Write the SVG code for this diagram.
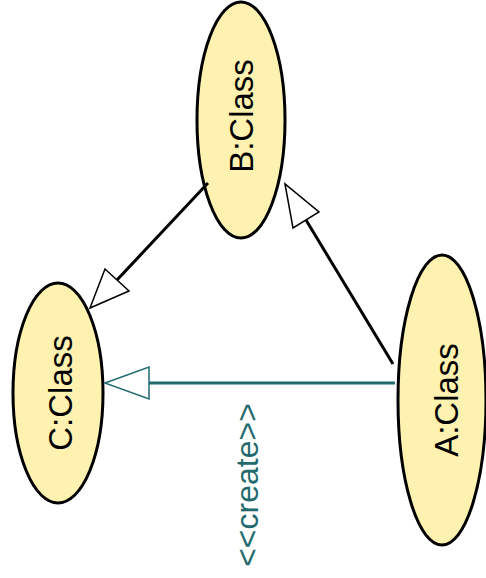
<svg xmlns="http://www.w3.org/2000/svg" width="486" height="578" viewBox="0 0 486 578">
<style>
.node{fill:#fff2b0;stroke:#000;stroke-width:3}
.lbl{font-family:"Liberation Sans",Arial,sans-serif;font-size:33px;fill:#000;text-anchor:middle}
.edge{stroke:#000;stroke-width:3;fill:none}
.head{fill:#fff;stroke:#000;stroke-width:1.5}
.teal{stroke:#226a6e}
.tlbl{font-family:"Liberation Sans",Arial,sans-serif;font-size:32px;fill:#226a6e;text-anchor:middle}
</style>
<rect width="486" height="578" fill="#fff"/>
<g id="nodeB">
<ellipse class="node" cx="241" cy="120" rx="44" ry="118"/>
<text class="lbl" transform="translate(253,116) rotate(-90)">B:Class</text>
</g>
<g id="nodeC">
<ellipse class="node" cx="58" cy="393" rx="45" ry="110"/>
<text class="lbl" transform="translate(72,393) rotate(-90)">C:Class</text>
</g>
<g id="nodeA">
<ellipse class="node" cx="442" cy="400" rx="44" ry="145"/>
<text class="lbl" transform="translate(458,400) rotate(-90)">A:Class</text>
</g>
<g id="connectors">
<line class="edge" x1="208" y1="183" x2="117" y2="280"/>
<polygon class="head" points="90,308 105,269 129,291"/>
<line class="edge" x1="393" y1="364" x2="306" y2="220"/>
<polygon class="head" points="285,184 293,228 319,212"/>
<line class="edge teal" x1="395" y1="383" x2="149" y2="383"/>
<polygon class="head teal" points="105,383 149,367 149,399"/>
<text class="tlbl" transform="translate(258,485) rotate(-90)">&lt;&lt;create&gt;&gt;</text>
</g>
</svg>
